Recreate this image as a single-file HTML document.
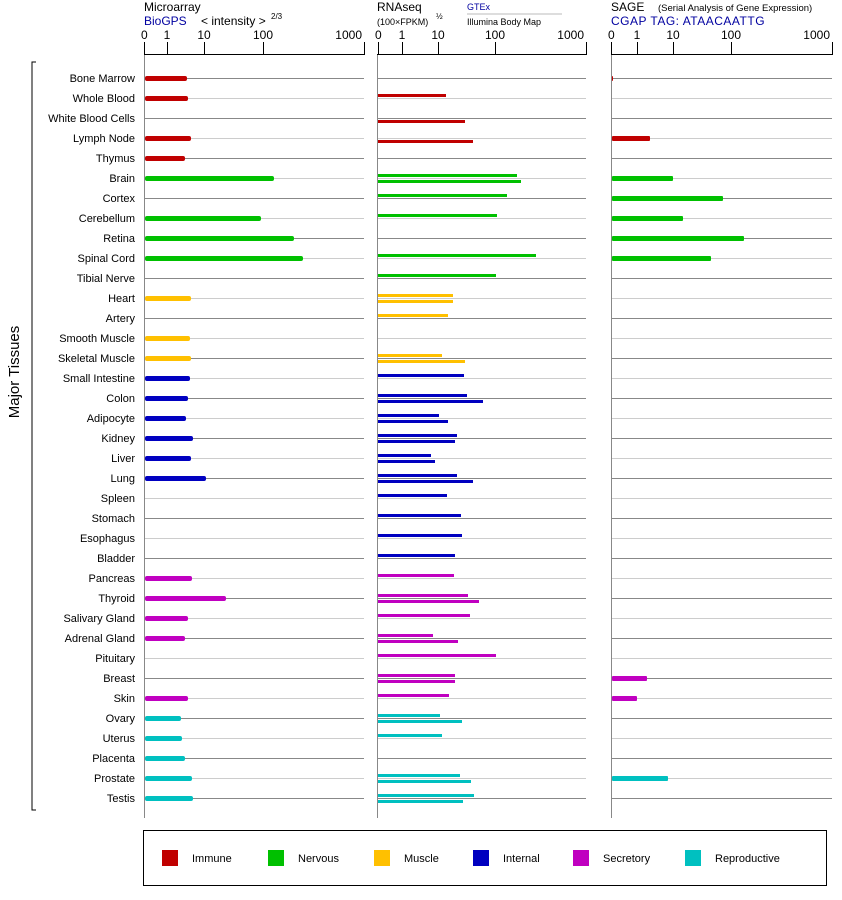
<!DOCTYPE html>
<html><head><meta charset="utf-8"><style>
body{margin:0;background:#fff;}
svg{display:block;font-family:"Liberation Sans",Arial,sans-serif;}
</style></head><body>
<svg id="s" width="842" height="900" xmlns="http://www.w3.org/2000/svg">
<rect width="842" height="900" fill="#fff"/>
<text x="144" y="11" font-size="12">Microarray</text>
<text x="144" y="25" font-size="12" fill="#0000a0">BioGPS</text>
<text x="201" y="25" font-size="12">&lt; intensity &gt;</text>
<text x="271" y="19" font-size="8">2/3</text>
<text x="377" y="11" font-size="12">RNAseq</text>
<text x="377" y="25" font-size="9">(100×FPKM)</text>
<text x="436" y="19" font-size="8">½</text>
<text x="467" y="10" font-size="9" fill="#0000a0">GTEx</text>
<line x1="467" y1="14" x2="562" y2="14" stroke="#bbb"/>
<text x="467" y="25" font-size="9">Illumina Body Map</text>
<text x="611" y="11" font-size="12">SAGE</text>
<text x="658" y="11" font-size="9.5">(Serial Analysis of Gene Expression)</text>
<text x="611" y="25" font-size="12" fill="#0000a0" letter-spacing="0.5">CGAP TAG: ATAACAATTG</text>
<text transform="translate(19,372) rotate(-90)" font-size="15" text-anchor="middle">Major Tissues</text>
<path d="M36,62 H32 V810 H36" fill="none" stroke="#000"/>
<rect x="143.5" y="830.5" width="683" height="55" fill="none" stroke="#000"/>
<g id="g"></g>
</svg>
<script>
var g=document.getElementById('g'),h='';
var C={r:'#c00000',n:'#00c000',m:'#ffc000',i:'#0000c0',s:'#c000c0',p:'#00c0c0'};
var rows=[
['Bone Marrow','r',187,0,0,613],['Whole Blood','r',188,446,0,0],['White Blood Cells','r',0,0,465,0],['Lymph Node','r',191,0,473,650],['Thymus','r',185,0,0,0],
['Brain','n',274,517,521,673],['Cortex','n',0,507,0,723],['Cerebellum','n',261,497,0,683],['Retina','n',294,0,0,744],['Spinal Cord','n',303,536,0,711],['Tibial Nerve','n',0,496,0,0],
['Heart','m',191,453,453,612],['Artery','m',0,448,0,0],['Smooth Muscle','m',190,0,0,0],['Skeletal Muscle','m',191,442,465,612],
['Small Intestine','i',190,464,0,0],['Colon','i',188,467,483,612],['Adipocyte','i',186,439,448,0],['Kidney','i',193,457,455,612],['Liver','i',191,431,435,612],['Lung','i',206,457,473,612],['Spleen','i',0,447,0,0],['Stomach','i',0,461,0,0],['Esophagus','i',0,462,0,0],['Bladder','i',0,455,0,0],
['Pancreas','s',192,454,0,612],['Thyroid','s',226,468,479,612],['Salivary Gland','s',188,470,0,0],['Adrenal Gland','s',185,433,458,0],['Pituitary','s',0,496,0,0],['Breast','s',0,455,455,647],['Skin','s',188,449,0,637],
['Ovary','p',181,440,462,0],['Uterus','p',182,442,0,0],['Placenta','p',185,0,0,612],['Prostate','p',192,460,471,668],['Testis','p',193,474,463,0]];
// axes
[[144,364,[[144,'0'],[167,'1'],[204,'10'],[263,'100'],[364,'1000']]],[377,586,[[378,'0'],[402,'1'],[438,'10'],[495,'100'],[586,'1000']]],[611,832,[[611,'0'],[637,'1'],[673,'10'],[731,'100'],[832,'1000']]]].forEach(function(a){
 h+='<line x1="'+a[0]+'" y1="54.5" x2="'+a[1]+'" y2="54.5" stroke="#000"/>';
 a[2].forEach(function(t,k){h+='<line x1="'+(t[0]+.5)+'" y1="42" x2="'+(t[0]+.5)+'" y2="55" stroke="#000"/>';
  var anc=k==0?'start':(k==4?'end':'middle');var x=k==0?t[0]-3:(k==4?t[0]-2:t[0]);
  h+='<text x="'+x+'" y="39" font-size="12" text-anchor="'+anc+'">'+t[1]+'</text>';});
 h+='<line x1="'+(a[0]+.5)+'" y1="55" x2="'+(a[0]+.5)+'" y2="818" stroke="#888"/>';
});
rows.forEach(function(r,i){var y=78+20*i,c=C[r[1]];
 h+='<text x="135" y="'+(y+4)+'" font-size="11" text-anchor="end">'+r[0]+'</text>';
 var lc=i%2==0?'#888':'#ccc';
 [[145,364],[378,586],[612,832]].forEach(function(p){h+='<line x1="'+p[0]+'" y1="'+(y+.5)+'" x2="'+p[1]+'" y2="'+(y+.5)+'" stroke="'+lc+'"/>';});
 if(r[2])h+='<rect x="145" y="'+(y-2)+'" width="'+(r[2]-145)+'" height="5" rx="2" fill="'+c+'"/>';
 if(r[3])h+='<rect x="378" y="'+(y-4)+'" width="'+(r[3]-378)+'" height="3" fill="'+c+'"/>';
 if(r[4])h+='<rect x="378" y="'+(y+2)+'" width="'+(r[4]-378)+'" height="3" fill="'+c+'"/>';
 if(r[5])h+='<rect x="612" y="'+(y-2)+'" width="'+(r[5]-612)+'" height="5" rx="1" fill="'+c+'"/>';
});
[['Immune','r',162],['Nervous','n',268],['Muscle','m',374],['Internal','i',473],['Secretory','s',573],['Reproductive','p',685]].forEach(function(l){
 h+='<rect x="'+l[2]+'" y="850" width="16" height="16" fill="'+C[l[1]]+'"/>';
 h+='<text x="'+(l[2]+30)+'" y="862" font-size="11">'+l[0]+'</text>';});
g.innerHTML=h;
</script>
</body></html>
